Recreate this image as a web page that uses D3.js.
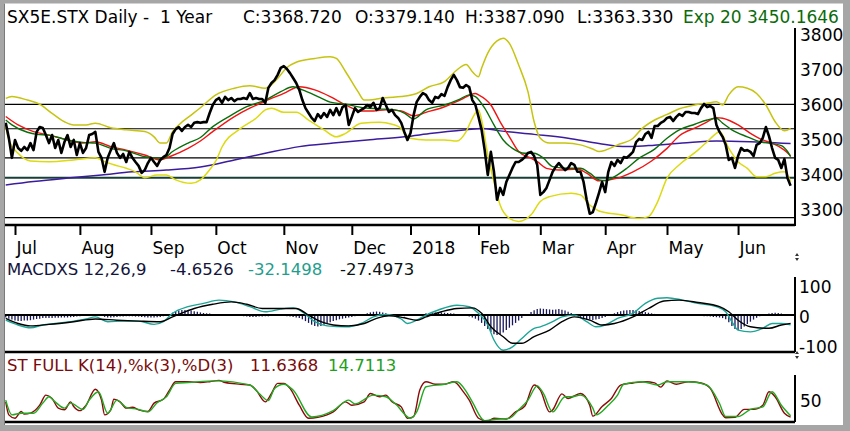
<!DOCTYPE html>
<html>
<head>
<meta charset="utf-8">
<script src="https://cdn.jsdelivr.net/npm/d3@7"></script>
<style>
  html, body { margin: 0; padding: 0; background: #fff; }
  svg { display: block; }
  text { font-family: "DejaVu Sans", sans-serif; }
</style>
</head>
<body>
<script>

// ---- data ----
// daily closes, one per trading day (Jun 2017 .. Jun 2018)
const close = [
  3549, 3506, 3449, 3500, 3477, 3469, 3480, 3471, 3491, 3471,
  3523, 3537, 3534, 3514, 3491, 3514, 3477, 3500, 3463, 3494,
  3514, 3480, 3500, 3457, 3491, 3463, 3477, 3514, 3517, 3523,
  3466, 3449, 3409, 3449, 3471, 3491, 3463, 3449, 3460, 3437,
  3466, 3449, 3437, 3426, 3406, 3414, 3434, 3449, 3437, 3426,
  3443, 3451, 3457, 3477, 3517, 3531, 3537, 3526, 3537, 3543,
  3537, 3549, 3551, 3549, 3551, 3551, 3577, 3600, 3614, 3620,
  3606, 3623, 3614, 3620, 3611, 3617, 3617, 3620, 3617, 3634,
  3617, 3620, 3617, 3617, 3606, 3649, 3663, 3671, 3686, 3706,
  3711, 3703, 3691, 3677, 3663, 3643, 3614, 3591, 3577, 3563,
  3554, 3574, 3563, 3577, 3566, 3586, 3571, 3591, 3571, 3594,
  3600, 3543, 3566, 3591, 3580, 3586, 3591, 3600, 3594, 3606,
  3586, 3591, 3620, 3600, 3580, 3586, 3571, 3563, 3549, 3523,
  3500, 3520, 3571, 3609, 3623, 3634, 3629, 3614, 3606, 3623,
  3620, 3631, 3626, 3651, 3671, 3686, 3671, 3651, 3649, 3657,
  3651, 3614, 3600, 3566, 3529, 3471, 3400, 3466, 3409, 3329,
  3363, 3343, 3380, 3400, 3420, 3437, 3437, 3443, 3451, 3463,
  3466, 3454, 3429, 3343, 3351, 3363, 3386, 3409, 3423, 3434,
  3423, 3414, 3420, 3434, 3429, 3409, 3409, 3380, 3329, 3289,
  3294, 3320, 3349, 3380, 3351, 3409, 3437, 3426, 3443, 3434,
  3451, 3449, 3457, 3466, 3494, 3503, 3500, 3517, 3523, 3506,
  3540, 3540, 3549, 3554, 3563, 3566, 3554, 3566, 3574, 3569,
  3580, 3580, 3577, 3577, 3574, 3591, 3603, 3594, 3597, 3591,
  3543, 3523, 3509, 3486, 3443, 3449, 3420, 3454, 3477, 3469,
  3471, 3466, 3454, 3486, 3491, 3506, 3537, 3511, 3477, 3449,
  3443, 3420, 3446, 3391, 3369
];

// overlays as [trading day, value]
const upperBand = [[0,3619],[2,3624],[7,3614],[11,3602],[15,3576],[19,3552],[22,3543],[26,3543],[29,3548],[34,3535],[39,3529],[45,3524],[48,3509],[50,3491],[52,3491],[54,3524],[56,3543],[60,3571],[63,3592],[68,3629],[74,3648],[79,3655],[84,3648],[88,3676],[91,3707],[94,3722],[100,3733],[105,3738],[107,3733],[110,3695],[114,3638],[116,3614],[120,3617],[123,3621],[128,3624],[133,3633],[137,3652],[142,3667],[146,3700],[149,3716],[151,3695],[153,3681],[154,3705],[156,3748],[159,3783],[161,3791],[163,3776],[166,3714],[169,3638],[171,3552],[173,3505],[176,3491],[181,3491],[186,3486],[190,3474],[192,3467],[198,3486],[203,3505],[206,3533],[210,3557],[214,3573],[218,3589],[223,3600],[227,3605],[230,3609],[232,3600],[234,3629],[237,3652],[240,3648],[243,3633],[246,3600],[249,3552],[252,3526],[254,3533]];
const lowerBand = [[0,3538],[1,3500],[4,3462],[8,3440],[14,3438],[22,3443],[29,3449],[32,3438],[35,3429],[39,3419],[42,3409],[45,3392],[49,3400],[52,3400],[55,3386],[60,3376],[63,3386],[66,3415],[68,3440],[70,3480],[76,3533],[81,3562],[84,3586],[86,3591],[90,3579],[94,3579],[98,3557],[103,3529],[107,3509],[110,3519],[115,3548],[121,3551],[125,3545],[128,3533],[129,3519],[131,3505],[136,3500],[142,3500],[146,3497],[149,3524],[151,3562],[153,3586],[154,3557],[156,3457],[158,3381],[160,3314],[163,3276],[166,3267],[170,3286],[173,3324],[176,3338],[183,3348],[186,3343],[189,3314],[192,3297],[199,3286],[205,3276],[208,3281],[211,3324],[214,3391],[218,3429],[224,3471],[227,3495],[230,3519],[231,3524],[234,3476],[237,3438],[240,3419],[243,3395],[246,3395],[249,3405],[252,3409],[254,3381]];
const exp20 = [[0,3557],[2,3543],[7,3522],[10,3516],[14,3514],[20,3500],[25,3493],[29,3491],[34,3476],[39,3469],[45,3452],[49,3448],[51,3448],[54,3467],[59,3491],[63,3507],[67,3538],[73,3571],[78,3595],[84,3614],[89,3638],[93,3652],[96,3643],[101,3624],[105,3608],[110,3602],[116,3592],[121,3589],[126,3586],[129,3577],[132,3560],[136,3586],[142,3600],[147,3617],[150,3629],[152,3624],[155,3591],[158,3543],[161,3500],[164,3476],[168,3462],[171,3462],[174,3448],[177,3424],[182,3419],[186,3419],[189,3405],[192,3386],[194,3384],[197,3395],[201,3419],[205,3448],[210,3474],[214,3505],[218,3529],[223,3545],[227,3557],[230,3562],[232,3548],[235,3529],[240,3509],[244,3495],[247,3491],[251,3484],[253,3467],[254,3452]];
const redAvg = [[0,3567],[4,3543],[9,3524],[14,3514],[20,3500],[25,3491],[29,3495],[34,3481],[39,3471],[45,3457],[50,3443],[53,3452],[59,3476],[63,3497],[67,3524],[74,3567],[79,3591],[84,3611],[90,3633],[95,3652],[100,3643],[105,3624],[110,3600],[115,3583],[119,3583],[123,3586],[128,3583],[132,3569],[136,3579],[142,3595],[147,3614],[152,3633],[153,3629],[157,3600],[160,3552],[163,3509],[166,3467],[170,3448],[172,3438],[175,3419],[179,3414],[185,3417],[188,3405],[192,3383],[198,3391],[203,3409],[209,3440],[214,3476],[218,3512],[224,3538],[227,3552],[230,3564],[232,3562],[237,3543],[241,3519],[245,3500],[248,3491],[252,3471],[254,3455]];
const longAvg = [[0,3371],[9,3381],[20,3391],[31,3400],[41,3409],[52,3414],[63,3423],[74,3443],[84,3462],[95,3481],[106,3491],[117,3500],[129,3509],[138,3519],[149,3529],[154,3533],[160,3526],[171,3516],[182,3505],[192,3490],[201,3481],[208,3484],[219,3491],[230,3497],[241,3495],[254,3490]];
const levels = [3602, 3532, 3449, 3392, 3278];
const priceTicks = [3300, 3400, 3500, 3600, 3700, 3800];

// month ticks (trading day of first session) and labels
const monthDays = [3, 24, 47, 68, 90, 112, 131, 153, 173, 194, 214, 237];
const monthLabels = ['Jul', 'Aug', 'Sep', 'Oct', 'Nov', 'Dec', '2018', 'Feb', 'Mar', 'Apr', 'May', 'Jun'];

// MACD 12,26,9
const macdLine = [[0,-17],[4,-33],[8,-42],[12,-33],[16,-28],[22,-20],[26,-13],[29,-6],[33,-22],[38,-20],[43,-20],[48,-31],[51,-22],[54,6],[59,28],[64,39],[69,50],[74,44],[79,28],[84,11],[89,20],[93,24],[96,11],[100,-22],[104,-36],[110,-39],[115,-28],[119,-6],[123,2],[128,-13],[130,-28],[133,-17],[136,0],[140,17],[146,33],[150,28],[153,6],[156,-33],[158,-83],[161,-117],[164,-106],[167,-78],[171,-44],[173,-39],[177,-22],[180,-6],[184,0],[188,-22],[191,-39],[194,-33],[198,-11],[203,6],[207,39],[211,56],[214,58],[219,50],[224,39],[230,28],[233,11],[235,-22],[237,-50],[241,-56],[245,-44],[248,-28],[251,-28],[254,-32.1]];
const signalLine = [[0,-11],[4,-28],[8,-36],[14,-31],[22,-22],[29,-13],[36,-17],[43,-20],[50,-22],[54,-6],[61,22],[67,36],[73,44],[78,36],[83,22],[89,22],[94,22],[98,0],[102,-22],[106,-33],[111,-36],[116,-28],[120,-11],[124,-2],[129,-9],[133,-17],[136,-6],[141,11],[146,22],[151,24],[154,6],[157,-39],[161,-72],[164,-94],[167,-94],[171,-72],[176,-50],[180,-22],[184,-6],[189,-17],[193,-33],[197,-28],[203,-6],[208,22],[213,47],[218,50],[224,42],[231,28],[234,11],[237,-17],[241,-39],[247,-44],[251,-33],[254,-27.5]];
const macdHist = [
  -8, -12, -15, -18, -20, -20, -18, -18, -17, -15, -13, -12, -10, -10, -10,
  -10, -9, -9, -8, -8, -8, -7, -6, -5, -4, -3, -2, -1, 0, 2, 3,
  -3, -6, -8, -8, -7, -6, -5, -5, -4, -4, -4, -5, -5, -6, -7, -8, -8, -8, -7, -6,
  -4, -1, 3, 8, 12, 15, 17, 17, 16, 15, 13, 11, 9, 7, 6,
  5, 4, 3, 3, 2, 2, 1, 0, -1, -2, -3,
  -4, -5, -6, -6, -6, -5, -5, -4, -4, -3, -3, -3, -3, -3, -4, -5, -6, -8, -10,
  -14, -20, -26, -32, -36, -38, -36,
  -32, -28, -24, -20, -17, -14, -12, -10, -8, -6, -4, -2, 0,
  3, 6, 9, 11, 12, 11, 9,
  6, 3, 1, -1, -2, -3, -4, -3, -2, -1, 0, 2, 4, 6,
  7, 8, 9, 9, 9, 8, 7, 6, 5, 3, 1,
  -1, -3, -5, -8, -12,
  -18, -26, -36, -46, -56, -64, -66, -64, -58, -50, -42, -34, -26,
  -18, -10, -3,
  4, 10, 16, 20, 22, 21, 20, 19, 18, 19, 20, 18, 15, 11, 7, 3,
  -2, -6, -10, -13, -15, -16, -15, -13, -10, -6,
  -2, 2, 6, 10, 13, 15, 16, 17, 17, 16, 14, 12, 10, 8, 6, 4, 3, 2,
  1, 0, 0, -1, -1, -2, -2, -3, -3, -3, -3, -3, -3, -4, -4, -5, -6, -7, -8, -10,
  -14, -24, -36, -46, -50, -46, -38, -30, -22, -15, -9, -4,
  0, 3, 5, 7, 8, 7, 5, 3, 1, -2
];
const macdTicks = [100, 0, -100];

// Stochastic full K(14), %k(3), %D(3)
const stochK = [[0,48],[1,17],[3,9],[5,25],[6,19],[8,21],[11,40],[13,64],[15,56],[17,33],[19,29],[21,48],[22,37],[24,27],[26,40],[29,78],[31,52],[32,17],[34,29],[35,54],[37,48],[39,33],[41,35],[43,29],[46,25],[48,45],[51,54],[53,76],[55,96],[59,96],[63,94],[66,96],[69,99],[71,94],[76,90],[79,88],[81,76],[84,48],[86,68],[88,92],[90,92],[92,80],[95,40],[98,9],[101,11],[106,24],[110,48],[112,40],[116,48],[118,68],[121,60],[123,64],[125,48],[128,36],[130,9],[132,13],[134,76],[136,96],[139,90],[142,90],[145,96],[148,73],[150,52],[153,9],[156,2],[158,9],[162,7],[165,24],[168,38],[171,88],[173,76],[176,24],[177,29],[180,67],[182,56],[186,68],[189,40],[190,14],[193,37],[196,56],[199,88],[203,93],[207,96],[210,93],[212,83],[214,98],[217,90],[221,96],[225,93],[228,80],[232,17],[233,10],[236,11],[239,30],[242,30],[245,40],[247,72],[249,60],[252,21],[254,11.6]];
const stochD = [[0,52],[2,17],[5,21],[9,21],[12,45],[14,60],[16,48],[19,33],[21,45],[25,30],[27,52],[30,72],[33,21],[36,52],[39,35],[43,30],[46,24],[49,46],[52,60],[55,92],[59,94],[68,98],[79,88],[82,68],[85,51],[87,80],[90,90],[93,76],[99,12],[106,27],[111,52],[113,43],[119,64],[123,60],[126,44],[131,9],[133,24],[136,84],[142,90],[146,96],[149,73],[151,48],[155,3],[158,6],[163,9],[166,29],[169,52],[172,86],[174,68],[177,24],[181,60],[183,60],[186,64],[190,33],[191,17],[195,40],[198,64],[200,90],[206,96],[211,88],[214,96],[221,96],[227,88],[231,44],[233,13],[237,13],[241,30],[245,36],[248,72],[251,40],[254,14.7]];
const stochTicks = [50];

// header texts
const headerText = ['SX5E.STX Daily -  1 Year', 'C:3368.720', 'O:3379.140', 'H:3387.090', 'L:3363.330', 'Exp 20', '3450.1646'];
const macdText = ['MACDXS 12,26,9', '-4.6526', '-32.1498', '-27.4973'];
const stochText = ['ST FULL K(14),%k(3),%D(3)', '11.6368', '14.7113'];

// ---- drawing ----
const width = 850;
const height = 431;
const left = 5;
const right = 795;

const svg = d3.select('body').append('svg')
  .attr('width', width)
  .attr('height', height);

svg.append('rect').attr('width', width).attr('height', height).attr('fill', '#fff');

const x = d3.scaleLinear().domain([0, close.length - 1]).range([5.73, 790.6]);
const yP = d3.scaleLinear().domain([3257, 3820]).range([225, 28]);
const yM = d3.scaleLinear().domain([-123, 127]).range([352, 277]);
const yS = d3.scaleLinear().domain([0, 100]).range([422, 380]);

const hline = (y, w, color) => svg.append('line')
  .attr('x1', left).attr('x2', right).attr('y1', y).attr('y2', y)
  .attr('stroke', color || '#000').attr('stroke-width', w);

const vline = (xp, y1, y2) => svg.append('line')
  .attr('x1', xp).attr('x2', xp).attr('y1', y1).attr('y2', y2)
  .attr('stroke', '#000').attr('stroke-width', 2);

const pairLine = (yScale) => d3.line()
  .x(d => x(d[0]))
  .y(d => yScale(d[1]))
  .curve(d3.curveMonotoneX);

const drawPairs = (data, yScale, color, w) => svg.append('path')
  .datum(data)
  .attr('d', pairLine(yScale))
  .attr('fill', 'none')
  .attr('stroke', color)
  .attr('stroke-width', w)
  .attr('stroke-linejoin', 'round');

const texts = (strings, xs, y, size, colors) => strings.forEach((s, i) => {
  svg.append('text')
    .attr('x', xs[i]).attr('y', y)
    .attr('font-size', size)
    .attr('fill', colors[i])
    .style('white-space', 'pre')
    .text(s);
});

const styleAxisText = (g) => g.selectAll('text')
  .attr('font-size', 17)
  .attr('font-family', '"DejaVu Sans", sans-serif')
  .attr('fill', '#000');

// price panel
levels.forEach((lv, i) => {
  if (i === 3) hline(yP(lv), 2, '#173f35');
  else hline(yP(lv), 1.2);
});

drawPairs(longAvg, yP, '#3b1c9e', 1.5);
drawPairs(upperBand, yP, '#c6c410', 1.5);
drawPairs(lowerBand, yP, '#dcda10', 1.5);
drawPairs(redAvg, yP, '#f01414', 1.4);
drawPairs(exp20, yP, '#0a6e0a', 1.4);

svg.append('path')
  .datum(close)
  .attr('d', d3.line().x((d, i) => x(i)).y(d => yP(d)))
  .attr('fill', 'none')
  .attr('stroke', '#000')
  .attr('stroke-width', 2.6)
  .attr('stroke-linejoin', 'round');

hline(225, 2.5);
vline(right, 28, 226);

const axP = svg.append('g')
  .attr('transform', `translate(${right},0)`)
  .call(d3.axisRight(yP).tickValues(priceTicks).tickFormat(d => String(d)).tickSize(0).tickPadding(5));
axP.select('.domain').remove();
styleAxisText(axP);

const axX = svg.append('g')
  .attr('transform', 'translate(0,225)')
  .call(d3.axisBottom(x).tickValues(monthDays).tickFormat((d, i) => monthLabels[i]).tickSize(10));
axX.select('.domain').remove();
axX.selectAll('line').attr('stroke', '#000').attr('stroke-width', 2);
styleAxisText(axX);
axX.selectAll('text')
  .attr('text-anchor', 'start')
  .attr('x', 1)
  .attr('y', 16.5);

texts(headerText, [7, 243, 355, 465, 577, 683, 747], 23, 17,
  ['#000', '#000', '#000', '#000', '#000', '#0b6b0b', '#0b6b0b']);

// MACD panel
svg.append('g')
  .selectAll('line')
  .data(macdHist)
  .join('line')
  .attr('x1', (d, i) => x(i)).attr('x2', (d, i) => x(i))
  .attr('y1', yM(0)).attr('y2', d => yM(d))
  .attr('stroke', '#17175a')
  .attr('stroke-width', 1.3);

hline(yM(0), 2);
drawPairs(macdLine, yM, '#1ba596', 1.4);
drawPairs(signalLine, yM, '#000', 1.4);
hline(352, 2.5);
vline(right, 277, 352);

const axM = svg.append('g')
  .attr('transform', `translate(${right},2)`)
  .call(d3.axisRight(yM).tickValues(macdTicks).tickFormat(d => String(d)).tickSize(0).tickPadding(4));
axM.select('.domain').remove();
styleAxisText(axM);

texts(macdText, [7, 170, 248, 340], 275, 16.5, ['#14143c', '#14143c', '#1f9e8e', '#0a1414']);

// stochastic panel
drawPairs(stochK, yS, '#8b0a0a', 1.4);
drawPairs(stochD, yS, '#22aa22', 1.4);
hline(422, 2.5);
vline(right, 375, 422);

const axS = svg.append('g')
  .attr('transform', `translate(${right},0)`)
  .call(d3.axisRight(yS).tickValues(stochTicks).tickSize(0).tickPadding(5));
axS.select('.domain').remove();
styleAxisText(axS);

texts(stochText, [7, 250, 328], 370.5, 16.5, ['#7a0a0a', '#7a0a0a', '#1ea01e']);

// little resize handles under the price and MACD axes
[257, 355].forEach(cy => {
  svg.append('path')
    .attr('d', `M${right + 2},${cy - 4}l-2,3h4z M${right + 2},${cy + 4}l-2,-3h4z`)
    .attr('fill', '#333');
});

// window frame
const frame = '#a6a6a6';
svg.append('rect').attr('x', 0).attr('y', 0).attr('width', width).attr('height', 3.5).attr('fill', frame);
svg.append('rect').attr('x', 0).attr('y', 425).attr('width', width).attr('height', 6).attr('fill', frame);
svg.append('rect').attr('x', 0).attr('y', 0).attr('width', 4).attr('height', height).attr('fill', frame);
svg.append('rect').attr('x', 843).attr('y', 0).attr('width', 7).attr('height', height).attr('fill', frame);
svg.append('line').attr('x1', 4.5).attr('x2', 4.5).attr('y1', 3.5).attr('y2', 425)
  .attr('stroke', '#7a7a7a').attr('stroke-width', 1);

</script>
</body>
</html>
